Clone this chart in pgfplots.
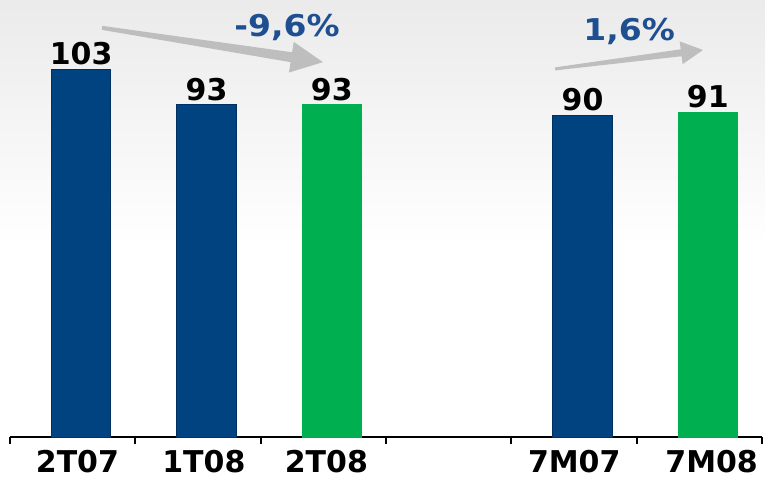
\documentclass[border=0pt]{standalone}
\usepackage{fontspec}
\setmainfont{DejaVu Sans}
\newfontfamily\lblfont{DejaVu Sans}
\newfontfamily\pctfont[FakeStretch=1.1]{DejaVu Sans}
\usepackage{pgfplots}
\pgfplotsset{compat=1.18}
\usetikzlibrary{calc}
\definecolor{barblue}{RGB}{0,67,128}
\definecolor{barblueedge}{RGB}{0,48,96}
\definecolor{bargreen}{RGB}{0,176,80}
\definecolor{pctblue}{RGB}{30,80,145}
\definecolor{arrgray}{RGB}{190,190,190}
\begin{document}
\begin{tikzpicture}
\fill[white] (-10pt,-43pt) rectangle (755pt,437pt);
\shade[top color=black!8, bottom color=white] (-10pt,190pt) rectangle (755pt,437pt);
\begin{axis}[
  at={(0pt,0pt)}, anchor=south west,
  scale only axis, width=752pt, height=437pt,
  xmin=-0.5, xmax=5.5, ymin=0, ymax=122.4,
  axis x line*=bottom, axis y line=none,
  axis line style={line width=2.8pt, black},
  xtick={0.038,1.047,2.024,4.002,5.098},
  xticklabels={2T07,1T08,2T08,7M07,7M08},
  major tick length=0pt,
  minor xtick={-0.5,0.5,1.5,2.5,3.5,4.5,5.5},
  minor tick length=7pt, tick align=outside,
  minor tick style={line width=2pt, black},
  xticklabel style={font=\lblfont\bfseries\fontsize{30}{32}\selectfont, yshift=-10pt},
  /pgf/number format/assume math mode=true,
  ybar, bar width=59.5pt,
  nodes near coords,
  every node near coord/.append style={font=\lblfont\bfseries\fontsize{30}{32}\selectfont, inner sep=0pt, yshift=4pt, black},
  clip=false,
]
\addplot[fill=barblue, draw=barblueedge, line width=1pt, bar shift=8.5pt]
  coordinates {(0,103) (1,93) (4,90)};
\addplot[fill=bargreen, draw=bargreen, line width=1pt, bar shift=8.5pt]
  coordinates {(2,93) (5,91)};
\coordinate (A1) at (axis cs:0.234,114.6);
\coordinate (B1) at (axis cs:1.997,105.0);
\coordinate (A2) at (axis cs:3.849,103.1);
\coordinate (B2) at (axis cs:5.029,108.4);
\node[text=pctblue, font=\pctfont\bfseries\fontsize{30}{32}\selectfont] at (axis cs:1.71,114.8) {-9,6\%};
\node[text=pctblue, font=\pctfont\bfseries\fontsize{30}{32}\selectfont] at (axis cs:4.44,113.7) {1,6\%};
\end{axis}
\coordinate (H1) at ($(B1)!32pt!(A1)$);
\fill[arrgray] ($(A1)!2pt!90:(B1)$) -- ($(H1)!5pt!90:(B1)$) -- ($(H1)!15.5pt!90:(B1)$) -- (B1)
  -- ($(H1)!15.5pt!-90:(B1)$) -- ($(H1)!5pt!-90:(B1)$) -- ($(A1)!2pt!-90:(B1)$) -- cycle;
\coordinate (H2) at ($(B2)!22pt!(A2)$);
\fill[arrgray] ($(A2)!1.5pt!90:(B2)$) -- ($(H2)!3.5pt!90:(B2)$) -- ($(H2)!11.5pt!90:(B2)$) -- (B2)
  -- ($(H2)!11.5pt!-90:(B2)$) -- ($(H2)!3.5pt!-90:(B2)$) -- ($(A2)!1.5pt!-90:(B2)$) -- cycle;
\end{tikzpicture}
\end{document}
